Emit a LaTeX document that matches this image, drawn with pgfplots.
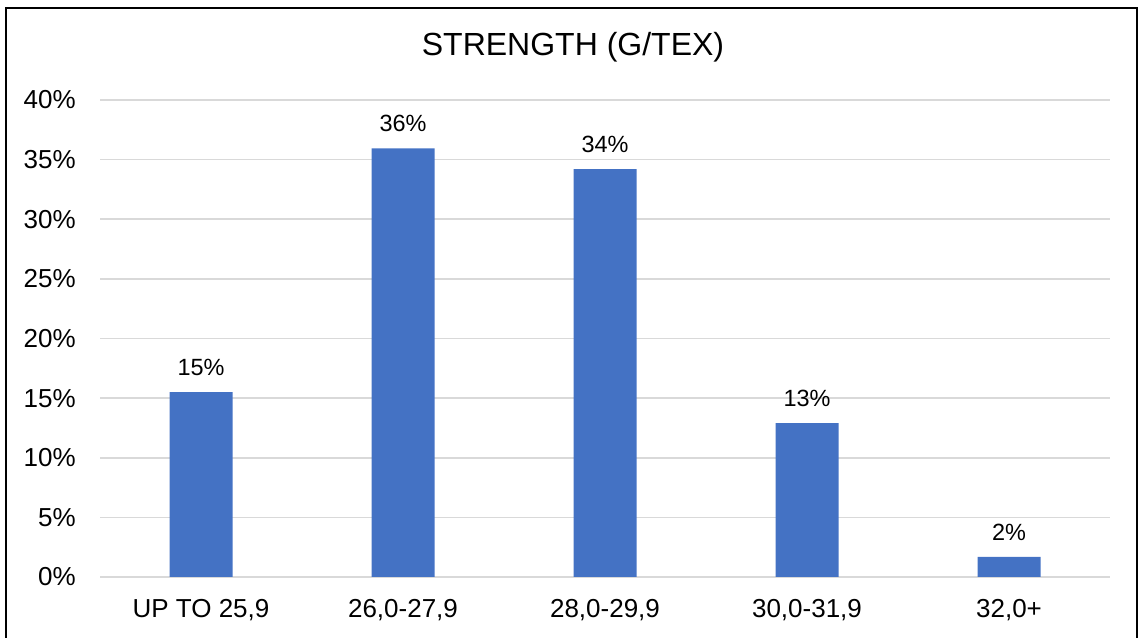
\documentclass[border=0pt]{standalone}
\usepackage{pgfplots}
\pgfplotsset{compat=1.18}
\usepackage{fontspec}
\setmainfont{Liberation Sans}
\definecolor{barblue}{HTML}{4472C4}
\definecolor{gridgray}{HTML}{D9D9D9}
\begin{document}
\begin{tikzpicture}
\useasboundingbox (0,0) rectangle (854.25pt,478.5pt);
\begin{scope}
\clip (0,0) rectangle (854.25pt,478.5pt);
\draw[line width=1.5pt] (4.5pt,-10pt) -- (4.5pt,472.5pt) -- (852.75pt,472.5pt) -- (852.75pt,-10pt);
\end{scope}
\node[font=\fontsize{24}{28}\selectfont, anchor=base, inner sep=0pt] at (429.75pt,436.5pt) {STRENGTH (G/TEX)};
\begin{axis}[
  at={(75pt,45.75pt)}, anchor=south west,
  width=757.5pt, height=357.75pt, scale only axis,
  ybar, bar width=47.25pt,
  ymin=0, ymax=40, xmin=-0.5, xmax=4.5,
  ytick={0,5,...,40},
  yticklabel={\pgfmathprintnumber{\tick}\%},
  xtick={0,1,2,3,4},
  xticklabels={{UP TO 25,9},{26,0-27,9},{28,0-29,9},{30,0-31,9},{32,0+}},
  ymajorgrids, grid style={gridgray, line width=1.2pt},
  axis line style={draw=none},
  major tick length=0pt,
  /pgf/number format/assume math mode=true,
  tick label style={font=\fontsize{19.5}{23}\selectfont},
  yticklabel style={anchor=east, inner sep=0pt, xshift=-18pt},
  xticklabel style={anchor=north, inner sep=0pt, yshift=-16.5pt},
  nodes near coords={\pgfplotspointmeta},
  point meta=explicit symbolic,
  nodes near coords style={font=\fontsize{17.6}{21}\selectfont, anchor=south, inner sep=0pt, yshift=12pt, text=black},
]
\addplot[fill=barblue, draw=none] coordinates {
  (0,15.5) [15\%]
  (1,35.95) [36\%]
  (2,34.2) [34\%]
  (3,12.9) [13\%]
  (4,1.68) [2\%]
};
\end{axis}
\end{tikzpicture}
\end{document}
